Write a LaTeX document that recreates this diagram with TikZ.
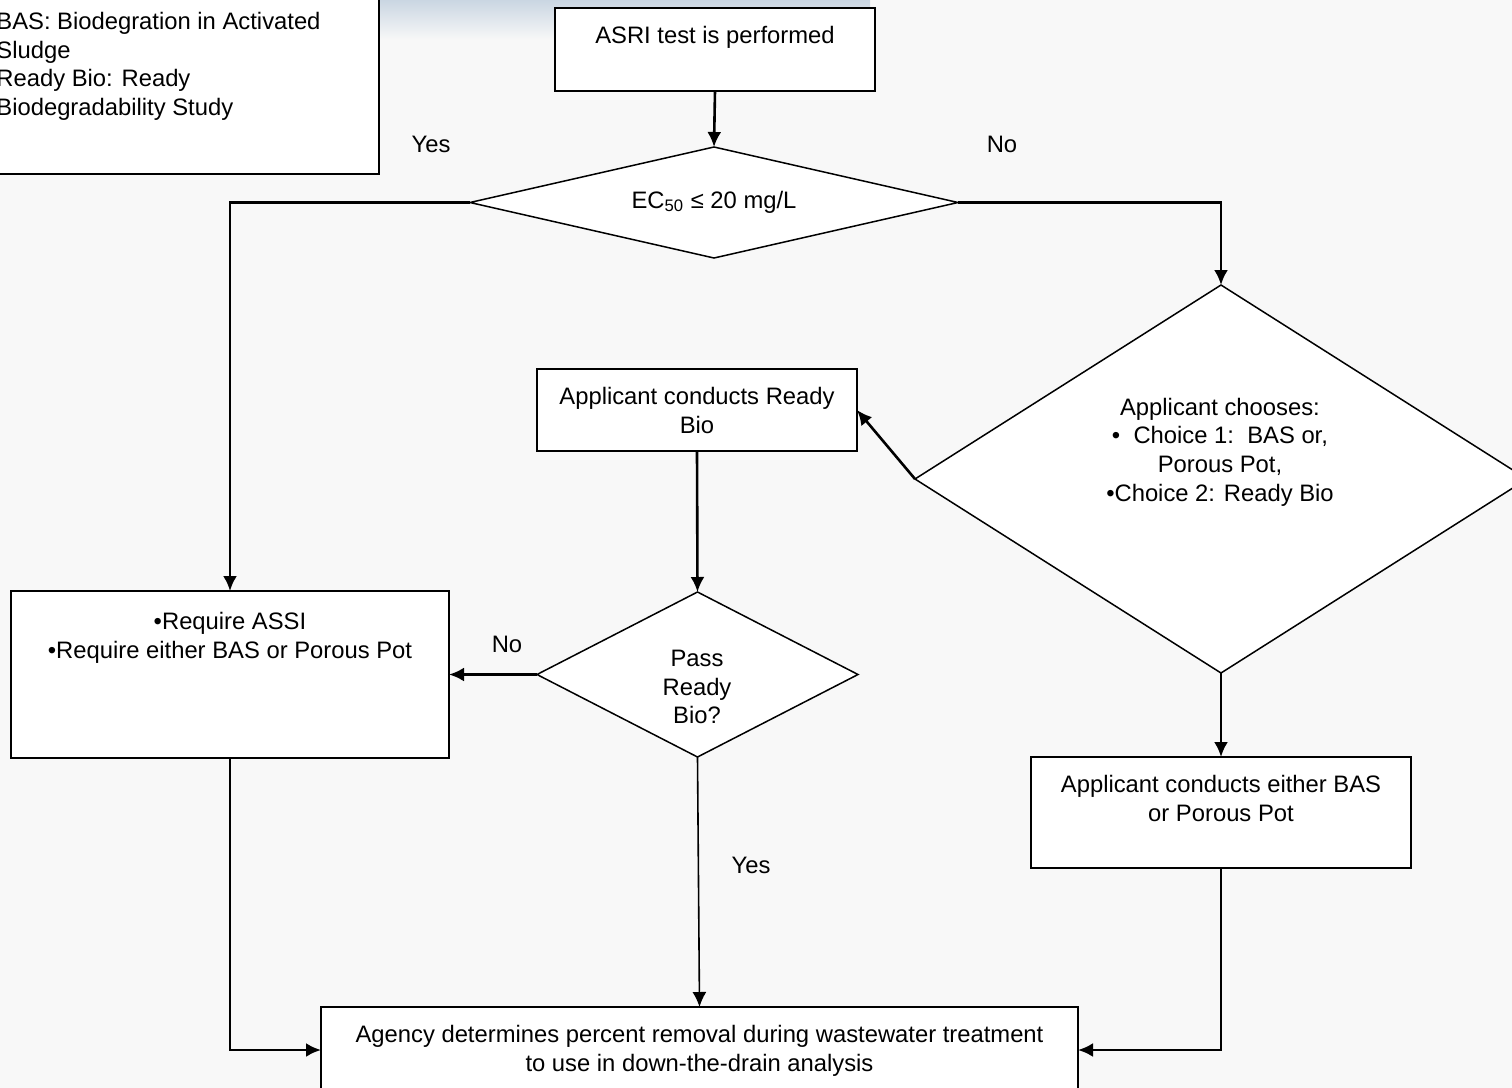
\documentclass[tikz,border=0pt]{standalone}
\usepackage{fontspec}
\setmainfont{Liberation Sans}
\usetikzlibrary{shapes.geometric,arrows.meta}
\definecolor{slide}{HTML}{F8F8F8}
\definecolor{haze}{HTML}{CAD6E2}

\begin{document}
\begin{tikzpicture}[x=0.5pt,y=-0.5pt,
    font=\fontsize{11.9}{14.3}\selectfont,
    box/.style={draw,fill=white,line width=1pt,rectangle,inner sep=0pt,outer sep=0pt},
    decision/.style={draw,fill=white,line width=0.75pt,diamond,inner sep=0pt,outer sep=0pt},
    boxtext/.style={anchor=north,yshift=-9pt,align=center,inner sep=0pt},
    flow/.style={line width=1.3pt,-{Latex[length=7.5pt,width=7pt]}}]

    % slide background
    \useasboundingbox (0,0) rectangle (1512,1088);
    \clip (0,0) rectangle (1512,1088);
    \fill[slide] (0,0) rectangle (1512,1088);
    \shade[top color=haze,bottom color=slide] (379,0) rectangle (870,40);

    % legend
    \node[box,minimum width=194.5pt,minimum height=92pt] (legend) at (184.5,82) {};
    \node[anchor=north west,align=left,inner sep=0pt] (legend-t) at (-4,12)
        {BAS: Biodegration in Activated\\Sludge\\Ready Bio: Ready\\Biodegradability Study};

    % boxes
    \node[box,minimum width=160pt,minimum height=41.5pt] (asri) at (715,49.5) {};
    \node[box,minimum width=160pt,minimum height=41pt] (ready) at (697,410) {};
    \node[box,minimum width=219pt,minimum height=83.5pt] (assi) at (230,674.5) {};
    \node[box,minimum width=190pt,minimum height=55.5pt] (bas) at (1221,812.5) {};
    \node[box,minimum width=378.5pt,minimum height=43pt] (agency) at (699.5,1050) {};

    % decisions
    \node[decision,minimum width=244pt,minimum height=55.5pt] (ec) at (714,202.5) {};
    \node[decision,minimum width=306pt,minimum height=194pt] (choose) at (1221,479) {};
    \node[decision,minimum width=160.5pt,minimum height=82.5pt] (pass) at (697.5,674.5) {};

    % texts
    \node[boxtext] (asri-t) at (asri.north) {ASRI test is performed};
    \node[boxtext] (ready-t) at (ready.north) {Applicant conducts Ready\\Bio};
    \node[boxtext,yshift=-1.5pt] (assi-t) at (assi.north) {•Require ASSI\\•Require either BAS or Porous Pot};
    \node[boxtext] (bas-t) at (bas.north) {Applicant conducts either BAS\\or Porous Pot};
    \node[boxtext] (agency-t) at (agency.north) {Agency determines percent removal during wastewater treatment\\to use in down-the-drain analysis};
    \node (ec-t) at (714,202) {EC\textsubscript{50} ≤ 20 mg/L};
    \node[align=center] (choose-t) at (1220,452) {Applicant chooses:\\•\ \ Choice 1:\ \ BAS or,\\Porous Pot,\\•Choice 2: Ready Bio};
    \node[align=center] (pass-t) at (697,687) {Pass\\Ready\\Bio?};

    % branch labels
    \node (yes-ec) at (431,144) {Yes};
    \node (no-ec) at (1002,144) {No};
    \node (no-pass) at (507,644) {No};
    \node (yes-pass) at (751,865) {Yes};

    % connectors
    \draw[flow] (asri.south) -- (ec.north);
    \draw[flow] (ec.west) -| (assi.north);
    \draw[flow] (ec.east) -| (choose.north);
    \draw[flow] (choose.west) -- (ready.east);
    \draw[flow] (ready.south) -- (pass.north);
    \draw[flow] (pass.west) -- (assi.east);
    \draw[flow,line width=0.8pt] (pass.south) -- (agency.north);
    \draw[flow] (choose.south) -- (bas.north);
    \draw[flow] (assi.south) |- (agency.west);
    \draw[flow] (bas.south) |- (agency.east);
\end{tikzpicture}
\end{document}
